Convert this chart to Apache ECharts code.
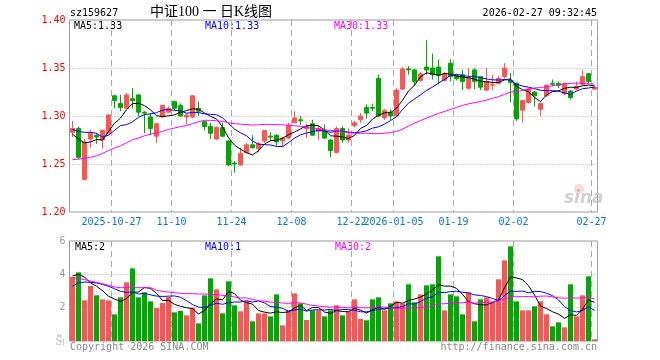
<!DOCTYPE html>
<html><head><meta charset="utf-8">
<script src="https://cdn.jsdelivr.net/npm/echarts@6/dist/echarts.min.js"></script>
<style>html,body{margin:0;padding:0;background:#fff}#c{width:660px;height:360px}</style>
</head><body><div id="c"></div>
<script>
const dates = ['2025-10-16','2025-10-17','2025-10-20','2025-10-21','2025-10-22','2025-10-23','2025-10-24',
'2025-10-27','2025-10-28','2025-10-29','2025-10-30','2025-10-31',
'2025-11-03','2025-11-04','2025-11-05','2025-11-06','2025-11-07',
'2025-11-10','2025-11-11','2025-11-12','2025-11-13','2025-11-14',
'2025-11-17','2025-11-18','2025-11-19','2025-11-20','2025-11-21',
'2025-11-24','2025-11-25','2025-11-26','2025-11-27','2025-11-28',
'2025-12-01','2025-12-02','2025-12-03','2025-12-04','2025-12-05',
'2025-12-08','2025-12-09','2025-12-10','2025-12-11','2025-12-12',
'2025-12-15','2025-12-16','2025-12-17','2025-12-18','2025-12-19',
'2025-12-22','2025-12-23','2025-12-24','2025-12-25','2025-12-26',
'2025-12-29','2025-12-30',
'2026-01-05','2026-01-06','2026-01-07','2026-01-08','2026-01-09',
'2026-01-12','2026-01-13','2026-01-14','2026-01-15','2026-01-16',
'2026-01-19','2026-01-20','2026-01-21','2026-01-22','2026-01-23',
'2026-01-26','2026-01-27','2026-01-28','2026-01-29','2026-01-30',
'2026-02-02','2026-02-03','2026-02-04','2026-02-05','2026-02-06',
'2026-02-09','2026-02-10','2026-02-11','2026-02-12','2026-02-13',
'2026-02-24','2026-02-25','2026-02-26','2026-02-27'];

const opens = [1.283,1.287,1.234,1.276,1.280,1.275,1.282,1.321,1.313,1.308,
1.318,1.322,1.304,1.299,1.279,1.299,1.304,1.315,1.311,1.299,
1.299,1.308,1.294,1.289,1.276,1.288,1.274,1.251,1.249,1.262,
1.270,1.266,1.274,1.279,1.280,1.274,1.277,1.293,1.296,1.287,
1.292,1.284,1.285,1.275,1.262,1.287,1.275,1.290,1.296,1.309,
1.309,1.339,1.298,1.304,1.300,1.328,1.349,1.348,1.337,1.351,
1.350,1.351,1.337,1.355,1.342,1.343,1.329,1.348,1.341,1.327,
1.332,1.334,1.341,1.337,1.334,1.306,1.314,1.325,1.307,1.321,
1.334,1.334,1.323,1.326,1.328,1.333,1.344,1.328];

const closes = [1.287,1.257,1.273,1.282,1.278,1.285,1.301,1.316,1.309,1.322,
1.316,1.304,1.303,1.287,1.292,1.311,1.308,1.308,1.300,1.301,
1.321,1.305,1.289,1.282,1.288,1.279,1.249,1.250,1.261,1.270,
1.267,1.271,1.285,1.278,1.273,1.277,1.290,1.298,1.295,1.289,
1.280,1.287,1.277,1.264,1.287,1.275,1.280,1.293,1.300,1.303,
1.308,1.300,1.306,1.300,1.327,1.349,1.348,1.336,1.344,1.348,
1.343,1.342,1.344,1.341,1.339,1.336,1.340,1.336,1.330,1.336,
1.333,1.339,1.350,1.335,1.297,1.316,1.328,1.321,1.313,1.332,
1.333,1.332,1.334,1.319,1.331,1.341,1.336,1.330];

const lows = [1.278,1.255,1.233,1.267,1.271,1.266,1.281,1.308,1.305,1.307,
1.308,1.300,1.282,1.280,1.272,1.298,1.303,1.306,1.299,1.291,
1.298,1.300,1.285,1.276,1.275,1.278,1.248,1.241,1.248,1.261,
1.266,1.262,1.272,1.274,1.269,1.268,1.276,1.293,1.291,1.277,
1.279,1.275,1.276,1.257,1.261,1.272,1.272,1.288,1.293,1.297,
1.305,1.299,1.296,1.296,1.299,1.327,1.343,1.331,1.336,1.343,
1.338,1.333,1.336,1.336,1.337,1.327,1.327,1.328,1.327,1.326,
1.327,1.333,1.339,1.314,1.295,1.293,1.313,1.310,1.300,1.320,
1.331,1.329,1.322,1.317,1.327,1.332,1.334,1.327];

const highs = [1.295,1.289,1.276,1.286,1.282,1.286,1.302,1.322,1.322,1.324,
1.329,1.323,1.305,1.303,1.293,1.312,1.310,1.316,1.313,1.303,
1.322,1.315,1.295,1.293,1.289,1.293,1.275,1.253,1.267,1.272,
1.280,1.273,1.285,1.283,1.281,1.278,1.293,1.305,1.300,1.292,
1.296,1.290,1.291,1.276,1.289,1.289,1.287,1.295,1.303,1.312,
1.313,1.343,1.307,1.307,1.329,1.351,1.352,1.349,1.346,1.379,
1.365,1.359,1.346,1.359,1.343,1.348,1.350,1.350,1.341,1.350,
1.343,1.342,1.355,1.345,1.335,1.317,1.329,1.326,1.314,1.333,
1.338,1.336,1.335,1.327,1.336,1.348,1.345,1.331];

const volumes = [3.84,4.12,2.44,3.30,2.74,2.50,2.44,1.60,2.62,3.52,
4.36,2.62,2.92,2.38,1.98,2.28,2.64,1.72,1.80,1.54,
2.00,1.06,2.74,3.76,3.10,1.66,3.58,2.14,1.78,2.38,
1.18,1.66,1.66,1.48,2.80,0.94,1.84,2.86,2.26,1.26,
1.84,1.84,1.48,1.84,2.14,1.54,1.78,2.50,1.32,1.24,
2.50,2.62,1.84,2.26,2.38,2.26,3.40,2.32,2.80,3.34,
3.40,5.08,1.84,2.80,2.68,1.60,2.92,1.18,2.50,2.62,
2.32,3.70,4.84,5.68,2.38,1.84,1.84,2.08,2.38,1.60,
0.88,1.12,0.82,3.40,1.48,2.74,3.88,0.10];

// moving-average values for the first bars (window reaches before the first bar)
const ma5Head = [1.281,1.276,1.272,1.273];
const ma10Head = [1.286,1.284,1.283,1.283,1.282,1.278,1.280,1.285,1.290];
const ma30Head = [1.2545,1.255,1.256,1.257,1.2585,1.261,1.264,1.2666,1.269,1.272,1.2753,1.277,1.2795,1.281,1.2825,1.284,1.286,1.2875,1.289,1.290,1.292,1.294,1.2955,1.2955,1.295,1.2944,1.293,1.292,1.2915];
const vma5Head = [3.9,4.0,3.84,3.48];
const vma10Head = [3.28,3.48,3.54,3.52,3.48,3.4,3.28,3.14,2.98];
const vma30Head = [3.8,3.76,3.68,3.6,3.52,3.44,3.34,3.24,3.2,3.2,3.2,3.2,3.2,3.2,3.04,2.98,2.94,2.9,2.86,2.84,2.84,2.82,2.82,2.8,2.78,2.74,2.7,2.64,2.58];

const tickIndex = [7,17,27,37,47,54,64,74,87];
const tickLabels = ['2025-10-27','11-10','11-24','12-08','12-22','2026-01-05','01-19','02-02','02-27'];

const RED = '#ff5454', GREEN = '#00a800';
const MONO = "'DejaVu Sans Mono', monospace";

function ma(values, n, head) {
  return values.map((v, i) => {
    if (i < n - 1) return head[i];
    let s = 0;
    for (let k = i - n + 1; k <= i; k++) s += values[k];
    return +(s / n).toFixed(4);
  });
}
const ma5 = ma(closes, 5, ma5Head), ma10 = ma(closes, 10, ma10Head), ma30 = ma(closes, 30, ma30Head);
const vma5 = ma(volumes, 5, vma5Head), vma10 = ma(volumes, 10, vma10Head), vma30 = ma(volumes, 30, vma30Head);
const last = a => a[a.length - 1];

const candles = dates.map((d, i) => [opens[i], closes[i], lows[i], highs[i]]);
const volData = volumes.map((v, i) => ({ value: v, itemStyle: { color: closes[i] >= opens[i] ? RED : GREEN } }));

const isTick = idx => tickIndex.indexOf(idx) >= 0;
const splitStyle = { show: true, interval: isTick, lineStyle: { color: '#aaa', type: [6, 4], width: 1 } };
const hSplit = { show: true, showMinLine: false, showMaxLine: false, lineStyle: { color: '#aaa', type: [1, 2], width: 1 } };

const chart = echarts.init(document.getElementById('c'), null, { renderer: 'canvas' });
const txt = (x, y, text, color, opts) => Object.assign({
  type: 'text', x: x, y: y,
  style: Object.assign({ text: text, fill: color, font: '10px ' + MONO, verticalAlign: 'middle' }, (opts || {}))
}, {});

chart.setOption({
  animation: false,
  backgroundColor: '#fff',
  grid: [
    { left: 69.5, top: 20, width: 528, height: 192, show: true, borderColor: '#999', borderWidth: 1 },
    { left: 69.5, top: 241, width: 528, height: 100, show: true, borderColor: '#999', borderWidth: 1 }
  ],
  xAxis: [
    { type: 'category', gridIndex: 0, data: dates, boundaryGap: true,
      axisLine: { show: false }, axisTick: { show: false },
      axisLabel: { interval: isTick, margin: 5, color: '#0a78c8', fontFamily: MONO, fontSize: 10,
        padding: [0, 6, 0, 0],
        formatter: (v, idx) => { const k = tickIndex.indexOf(idx); return k >= 0 ? tickLabels[k] : ''; } },
      splitLine: splitStyle },
    { type: 'category', gridIndex: 1, data: dates, boundaryGap: true,
      axisLine: { show: false }, axisTick: { show: false }, axisLabel: { show: false },
      splitLine: splitStyle }
  ],
  yAxis: [
    { type: 'value', gridIndex: 0, min: 1.20, max: 1.40, interval: 0.05,
      axisLine: { show: false }, axisTick: { show: false },
      axisLabel: { color: '#f00', fontFamily: MONO, fontSize: 10, margin: 4, formatter: v => v.toFixed(2) },
      splitLine: hSplit },
    { type: 'value', gridIndex: 1, min: 0, max: 6, interval: 2,
      axisLine: { show: false }, axisTick: { show: false },
      axisLabel: { color: '#999', fontFamily: MONO, fontSize: 10, margin: 4, formatter: v => v === 0 ? '' : String(v) },
      splitLine: hSplit }
  ],
  series: [
    { type: 'candlestick', xAxisIndex: 0, yAxisIndex: 0, data: candles, barWidth: 4,
      itemStyle: { color: RED, color0: GREEN, borderColor: RED, borderColor0: GREEN, borderWidth: 1 } },
    { type: 'line', xAxisIndex: 0, yAxisIndex: 0, data: ma5, symbol: 'none', lineStyle: { color: '#000', width: 1 }, z: 3 },
    { type: 'line', xAxisIndex: 0, yAxisIndex: 0, data: ma10, symbol: 'none', lineStyle: { color: '#0000ff', width: 1 }, z: 3 },
    { type: 'line', xAxisIndex: 0, yAxisIndex: 0, data: ma30, symbol: 'none', lineStyle: { color: '#ff00ff', width: 1 }, z: 3 },
    { type: 'bar', xAxisIndex: 1, yAxisIndex: 1, data: volData, barWidth: 5 },
    { type: 'line', xAxisIndex: 1, yAxisIndex: 1, data: vma5, symbol: 'none', lineStyle: { color: '#000', width: 1 }, z: 3 },
    { type: 'line', xAxisIndex: 1, yAxisIndex: 1, data: vma10, symbol: 'none', lineStyle: { color: '#0000ff', width: 1 }, z: 3 },
    { type: 'line', xAxisIndex: 1, yAxisIndex: 1, data: vma30, symbol: 'none', lineStyle: { color: '#ff00ff', width: 1 }, z: 3 }
  ],
  graphic: [
    txt(70, 13, 'sz159627', '#000'),
    txt(150, 12, '中证100 一 日K线图', '#000', { font: "14px 'Liberation Serif', 'Noto Sans CJK SC', serif" }),
    txt(597, 13, '2026-02-27 09:32:45', '#000', { align: 'right' }),
    txt(74, 26, 'MA5:' + last(ma5).toFixed(2), '#000'),
    txt(205, 26, 'MA10:' + last(ma10).toFixed(2), '#0000ff'),
    txt(334, 26, 'MA30:' + last(ma30).toFixed(2), '#ff00ff'),
    txt(75, 247, 'MA5:' + Math.floor(last(vma5)), '#000'),
    txt(205, 247, 'MA10:' + Math.floor(last(vma10)), '#0000ff'),
    txt(335, 247, 'MA30:' + Math.floor(last(vma30)), '#ff00ff'),
    txt(70, 347, 'Copyright 2026 SINA.COM', '#888'),
    txt(597, 347, 'http://finance.sina.com.cn', '#888', { align: 'right' }),
    { type: 'text', x: 60, y: 334, rotation: -Math.PI / 2, style: { text: 'x万', fill: '#aaa', font: "8px 'Noto Sans CJK SC'", verticalAlign: 'middle' } },
    { type: 'circle', shape: { cx: 579, cy: 189, r: 5 }, style: { fill: 'rgba(255,140,140,0.35)' } },
    { type: 'text', x: 564, y: 199, style: { text: 'sina', fill: 'rgba(150,150,150,0.45)', font: "italic bold 17px 'DejaVu Sans'", verticalAlign: 'middle' } }
  ]
});
</script></body></html>
